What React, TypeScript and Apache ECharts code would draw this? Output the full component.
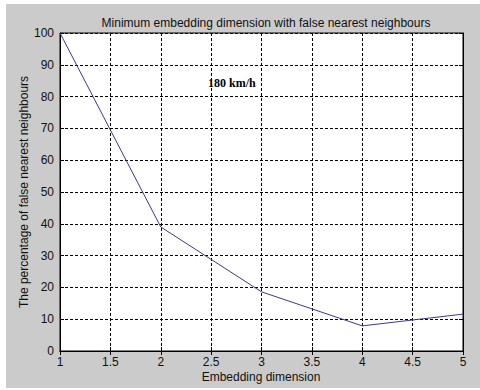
import React, { useEffect, useRef } from "react";
import * as echarts from "echarts";

const dims = [1, 2, 3, 4, 5];
const falsePct = [100, 39, 18.6, 7.9, 11.6];
const titleText = "Minimum embedding dimension with false nearest neighbours";
const xName = "Embedding dimension";
const yName = "The percentage of false nearest neighbours";
const noteText = "180 km/h";

export default function App() {
  const ref = useRef<HTMLDivElement>(null);
  useEffect(() => {
    document.body.style.margin = "0";
    const chart = echarts.init(ref.current!, null, { renderer: "svg" });
    const font = "'Liberation Sans', Arial, sans-serif";
    const gridLine = { show: true, lineStyle: { color: "#000", type: [3, 2], width: 1 } };
    chart.setOption({
      animation: false,
      backgroundColor: "#ffffff",
      textStyle: { fontFamily: font },
      title: {
        text: titleText,
        left: 261,
        textAlign: "center",
        top: 12,
        textStyle: { fontSize: 12, fontWeight: "normal", color: "#111", fontFamily: font },
      },
      graphic: [
        { type: "rect", z: -100, silent: true, shape: { x: 6, y: 4, width: 474, height: 384 }, style: { fill: "#cbcbcb" } },
        {
          type: "text",
          x: 208,
          y: 77,
          style: { text: noteText, fontFamily: "'Liberation Serif', 'Times New Roman', serif", fontWeight: "bold", fontSize: 12, fill: "#000" },
        },
        {
          type: "text",
          x: 24,
          y: 192,
          rotation: Math.PI / 2,
          style: { text: yName, fontFamily: font, fontSize: 12, fill: "#111", align: "center", verticalAlign: "middle" },
        },
        {
          type: "text",
          x: 261,
          y: 377,
          style: { text: xName, fontFamily: font, fontSize: 12, fill: "#111", align: "center", verticalAlign: "middle" },
        },
      ],
      grid: { left: 60, right: 17, top: 33, bottom: 39, show: true, backgroundColor: "#ffffff", borderColor: "#000", borderWidth: 1 },
      xAxis: [
        {
          type: "value",
          min: 1,
          max: 5,
          interval: 0.5,
          axisLine: { show: true, lineStyle: { color: "#000" } },
          axisTick: { show: true, inside: true, length: 4, lineStyle: { color: "#000" } },
          axisLabel: { fontSize: 12, color: "#111", margin: 5, fontFamily: font },
          splitLine: gridLine,
        },
        {
          type: "value",
          position: "top",
          min: 1,
          max: 5,
          interval: 0.5,
          axisLine: { show: true, lineStyle: { color: "#000" } },
          axisTick: { show: true, inside: true, length: 4, lineStyle: { color: "#000" } },
          axisLabel: { show: false },
          splitLine: { show: false },
        },
      ],
      yAxis: [
        {
          type: "value",
          min: 0,
          max: 100,
          interval: 10,
          axisLine: { show: true, lineStyle: { color: "#000" } },
          axisTick: { show: true, inside: true, length: 4, lineStyle: { color: "#000" } },
          axisLabel: { fontSize: 12, color: "#111", margin: 6, fontFamily: font },
          splitLine: gridLine,
        },
        {
          type: "value",
          position: "right",
          min: 0,
          max: 100,
          interval: 10,
          axisLine: { show: true, lineStyle: { color: "#000" } },
          axisTick: { show: true, inside: true, length: 4, lineStyle: { color: "#000" } },
          axisLabel: { show: false },
          splitLine: { show: false },
        },
      ],
      series: [
        {
          type: "line",
          data: dims.map((d, i) => [d, falsePct[i]]),
          showSymbol: false,
          symbol: "none",
          lineStyle: { color: "#3a3a8c", width: 1 },
          z: 5,
        },
      ],
    });
    return () => chart.dispose();
  }, []);
  return <div ref={ref} style={{ position: "absolute", left: 0, top: 0, width: 480, height: 390 }} />;
}
